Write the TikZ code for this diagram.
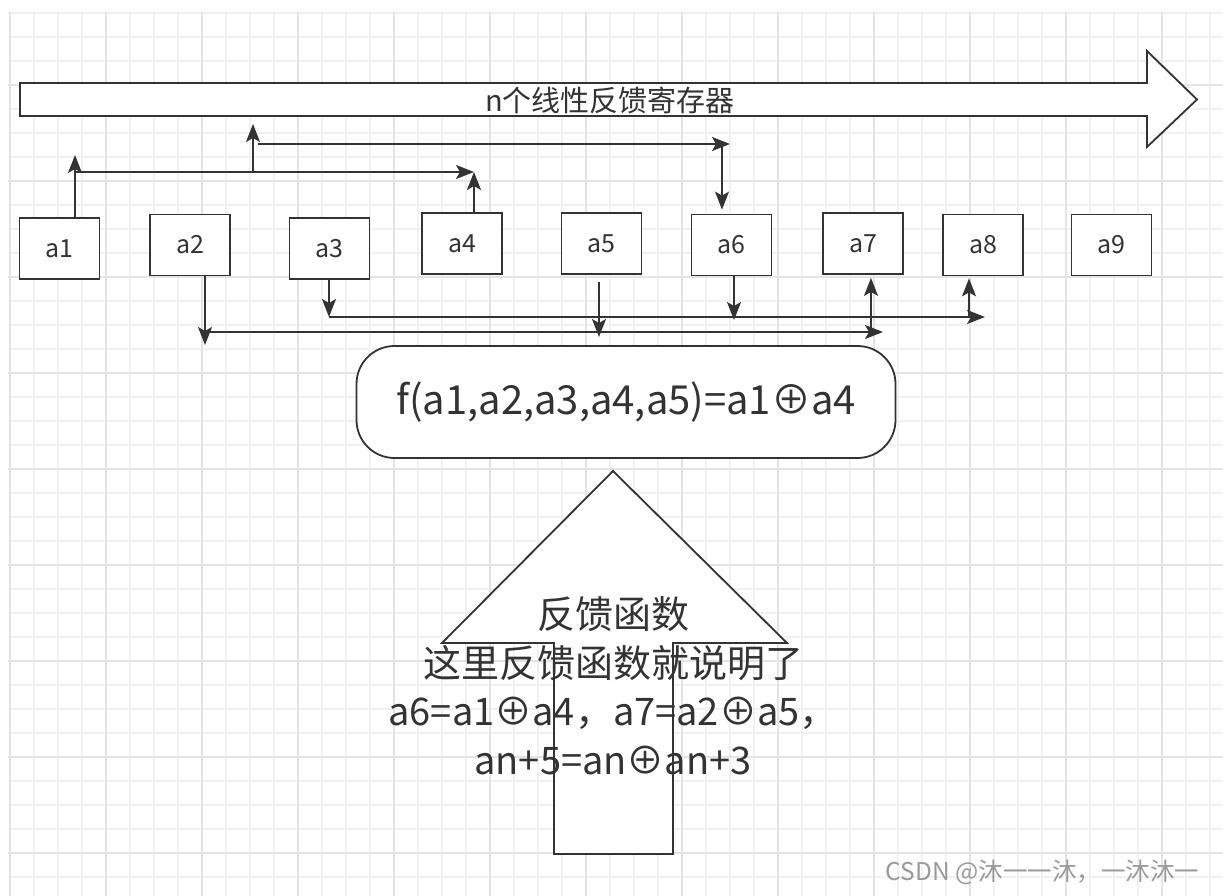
\documentclass[tikz,border=0pt]{standalone}
\usepackage{fontspec}
\setmainfont{Noto Sans CJK SC}
\usetikzlibrary{arrows.meta}
\definecolor{ink}{HTML}{333333}
\definecolor{gridminor}{HTML}{F1F1F1}
\definecolor{gridmajor}{HTML}{E4E4E4}
\definecolor{wmark}{HTML}{9A9A9A}
\newcommand{\xorop}{⊕}
\begin{document}
\begin{tikzpicture}[x=1pt,y=-1pt,
  cell/.style={draw=ink,line width=1.8pt,fill=white,minimum width=80pt,minimum height=61pt,
    inner sep=0pt,text=ink,font=\fontsize{25}{30}\selectfont},
  conn/.style={draw=ink,line width=1.6pt,-{Stealth[length=18pt,width=14pt,inset=4pt]}},
  outline/.style={draw=ink,line width=1.8pt,fill=white},
  label/.style={text=ink,inner sep=0pt,align=center}
  ]
\useasboundingbox[fill=white] (0,0) rectangle (1223,896);
% grid
\foreach \x in {10,34,...,1222} \draw[gridminor,line width=1.2pt] (\x,12) -- (\x,896);
\foreach \y in {13,37,...,896} \draw[gridminor,line width=1.2pt] (8,\y) -- (1223,\y);
\foreach \x in {10,106,...,1222} \draw[gridmajor,line width=1.2pt] (\x,12) -- (\x,896);
\foreach \y in {85,181,...,896} \draw[gridmajor,line width=1.2pt] (8,\y) -- (1223,\y);

% top register arrow
\draw[outline] (20,83) -- (1147,83) -- (1147,51) -- (1197,99.5) -- (1147,147) -- (1147,116) -- (20,116) -- cycle;
\node[label,font=\fontsize{29}{34}\selectfont] (reg) at (610,100) {n个线性反馈寄存器};

% cells
\node[cell] (a1) at (59.5,248.5) {a1};
\node[cell] (a2) at (190,245) {a2};
\node[cell] (a3) at (329.5,248.5) {a3};
\node[cell] (a4) at (462,243.5) {a4};
\node[cell] (a5) at (601.5,243.5) {a5};
\node[cell] (a6) at (731.5,245) {a6};
\node[cell] (a7) at (863,243.5) {a7};
\node[cell] (a8) at (983,245) {a8};
\node[cell] (a9) at (1111.5,245) {a9};

% junction coordinates
\coordinate (p1) at (75,155);
\coordinate (p2) at (75,172);
\coordinate (p3) at (474,172);
\coordinate (p4) at (253,172);
\coordinate (p5) at (253,124);
\coordinate (p6) at (258,144);
\coordinate (p7) at (730,144);
\coordinate (p8) at (722,144);
\coordinate (q1) at (205,332);
\coordinate (q2) at (205,345);
\coordinate (q3) at (883,332);
\coordinate (q4) at (871,332);
\coordinate (r1) at (329,317);
\coordinate (r2) at (985,317);
\coordinate (r3) at (969,317);
\coordinate (s1) at (599,337);
\coordinate (s2) at (734,320);

% upper connectors
\draw[conn] (a1.north -| p1) -- (p1);
\draw[conn] (p2) -- (p3);
\draw[conn] (a4.north -| p3) -- (p3);
\draw[conn] (p4) -- (p5);
\draw[conn] (p6) -- (p7);
\draw[conn,shorten >=4pt] (p8) -- (a6.north -| p8);
% lower connectors
\draw[conn] (a2.south -| q1) -- (q2);
\draw[conn] (q1) -- (q3);
\draw[conn,shorten >=3pt] (q4) -- (a7.south -| q4);
\draw[conn] (a3.south -| r1) -- (r1);
\draw[conn] (r1) -- (r2);
\draw[conn,shorten >=2pt] (r3) -- (a8.south -| r3);
\draw[conn,shorten <=7pt] (a5.south -| s1) -- (s1);
\draw[conn] (a6.south -| s2) -- (s2);

% feedback function box
\node[draw=ink,line width=1.8pt,fill=white,rounded corners=38pt,minimum width=539pt,minimum height=112pt,
  text=ink,font=\fontsize{40}{48}\selectfont] (f) at (626,402) {f(a1,a2,a3,a4,a5)=a1\xorop a4};

% big up arrow
\draw[outline] (554,854) -- (554,643) -- (442,643) -- (613,471) -- (787,643) -- (673,643) -- (673,854) -- cycle;
\node[label,font=\fontsize{38}{48.5}\selectfont] (fb) at (613,686)
  {反馈函数\\这里反馈函数就说明了\\a6=a1\xorop a4，a7=a2\xorop a5，\\an+5=an\xorop an+3};

% watermark
\node[text=wmark,inner sep=0pt,font=\fontsize{24.5}{28}\selectfont] (wm) at (1042.5,872) {CSDN @沐一一沐，一沐沐一};
\end{tikzpicture}
\end{document}
